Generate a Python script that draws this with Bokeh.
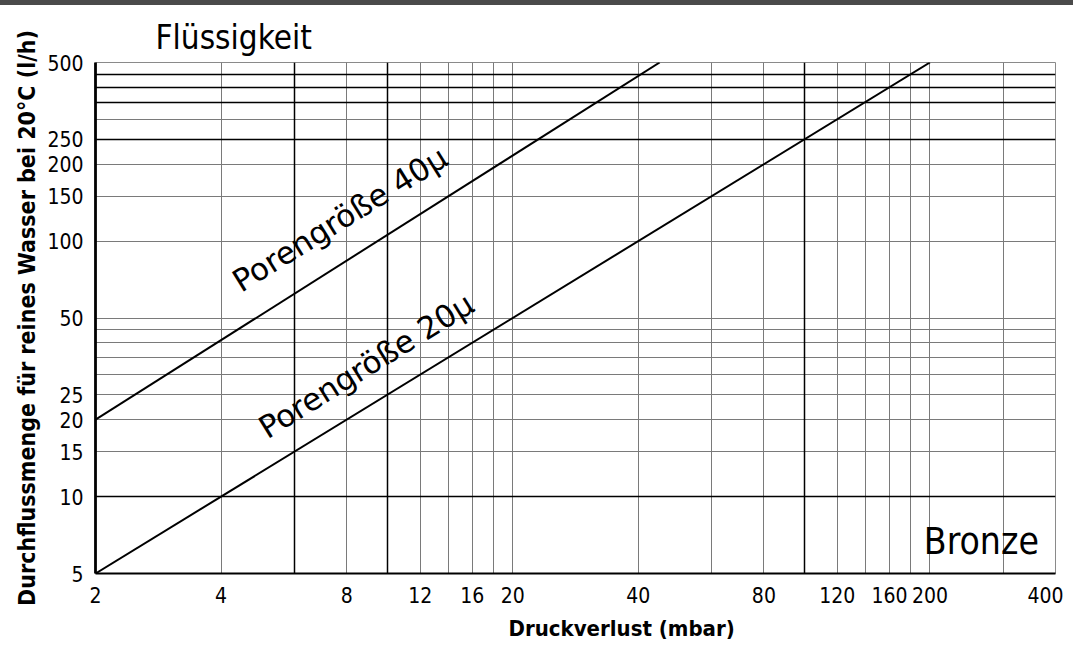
from bokeh.plotting import figure
from bokeh.models import FixedTicker, Grid, PrintfTickFormatter, Title, Div
from bokeh.layouts import column
from bokeh.core.properties import value
from bokeh.embed import file_html
from bokeh.resources import INLINE

# ---- data ----
pressure_20 = [2, 200]      # mbar
flow_20 = [5, 500]          # l/h
pressure_40 = [2, 45]
flow_40 = [20, 500]

x_ticks = [2, 4, 8, 12, 16, 20, 40, 80, 120, 160, 200, 400]
y_ticks = [5, 10, 15, 20, 25, 50, 100, 150, 200, 250, 500]
x_grid_thin = [4, 8, 12, 14, 16, 18, 20, 40, 60, 80, 120, 140, 160, 180, 200, 300]
x_grid_bold = [6, 10, 100]
y_grid_thin = [15, 20, 25, 30, 35, 40, 45, 50, 100, 150, 200, 300]
y_grid_bold = [10, 250, 350, 400, 450]

label_40 = "Porengröße 40μ"
label_20 = "Porengröße 20μ"
title_text = "Flüssigkeit"
material_text = "Bronze"
x_label = "Druckverlust (mbar)"
y_label = "Durchflussmenge für reines Wasser bei 20°C (l/h)"

COND = "DejaVu Sans Condensed"

fig = figure(x_axis_type="log", y_axis_type="log",
             x_range=(2, 400), y_range=(5, 500),
             frame_width=960, frame_height=511,
             min_border_left=95, min_border_right=8,
             min_border_top=57, min_border_bottom=66,
             output_backend="svg", toolbar_location=None,
             background_fill_color="white", border_fill_color="white")

fig.outline_line_color = "#8a8a8a"
fig.outline_line_width = 1

# grids
fig.xgrid.ticker = FixedTicker(ticks=x_grid_thin)
fig.xgrid.grid_line_color = "#7a7a7a"
fig.xgrid.grid_line_width = 1
fig.ygrid.ticker = FixedTicker(ticks=y_grid_thin)
fig.ygrid.grid_line_color = "#7a7a7a"
fig.ygrid.grid_line_width = 1
fig.add_layout(Grid(dimension=0, ticker=FixedTicker(ticks=x_grid_bold),
                    grid_line_color="black", grid_line_width=1.5))
fig.add_layout(Grid(dimension=1, ticker=FixedTicker(ticks=y_grid_bold),
                    grid_line_color="black", grid_line_width=1.5))

# axes
for ax in (fig.xaxis[0], fig.yaxis[0]):
    ax.major_tick_line_color = None
    ax.minor_tick_line_color = None
    ax.axis_line_color = "black"
    ax.major_label_text_font = COND
    ax.major_label_text_font_size = "21px"
    ax.major_label_text_color = "black"
    ax.formatter = PrintfTickFormatter(format="%d")
fig.xaxis[0].ticker = FixedTicker(ticks=x_ticks)
fig.yaxis[0].ticker = FixedTicker(ticks=y_ticks)
fig.xaxis[0].axis_line_width = 2
fig.yaxis[0].axis_line_width = 2.8
fig.xaxis[0].major_label_standoff = 7
fig.yaxis[0].major_label_standoff = 6

fig.yaxis[0].axis_label = y_label
fig.yaxis[0].axis_label_text_font = COND
fig.yaxis[0].axis_label_text_font_size = "23px"
fig.yaxis[0].axis_label_text_font_style = "bold"
fig.yaxis[0].axis_label_text_color = "black"
fig.yaxis[0].axis_label_standoff = 4

fig.add_layout(Title(text=x_label, align="left", offset=413,
                     text_font=COND, text_font_size="22px",
                     text_font_style="bold", text_color="black",
                     standoff=17), "below")

fig.title.text = title_text
fig.title.align = "left"
fig.title.offset = 60
fig.title.text_font = COND
fig.title.text_font_size = "33px"
fig.title.text_font_style = "normal"
fig.title.text_color = "black"
fig.title.standoff = 11

# lines
fig.line(pressure_40, flow_40, line_color="black", line_width=2)
fig.line(pressure_20, flow_20, line_color="black", line_width=2)

# labels
fig.text(x=[7.7], y=[122], text=[label_40], angle=0.555,
         text_align="center", text_baseline="middle",
         text_font=value("DejaVu Sans"), text_font_size="31px", text_color="black")
fig.text(x=[8.9], y=[32.6], text=[label_20], angle=0.555,
         text_align="center", text_baseline="middle",
         text_font=value("DejaVu Sans"), text_font_size="31px", text_color="black")
fig.text(x=[365], y=[6.7], text=[material_text],
         text_align="right", text_baseline="alphabetic",
         text_font=value(COND), text_font_size="37px", text_color="black")

band = Div(text="", width=1073, height=5, margin=0,
           styles={"background-color": "#4a4a4a"})

p = column(band, fig, spacing=0, margin=0)

open("out.html", "w").write(file_html(p, INLINE))
